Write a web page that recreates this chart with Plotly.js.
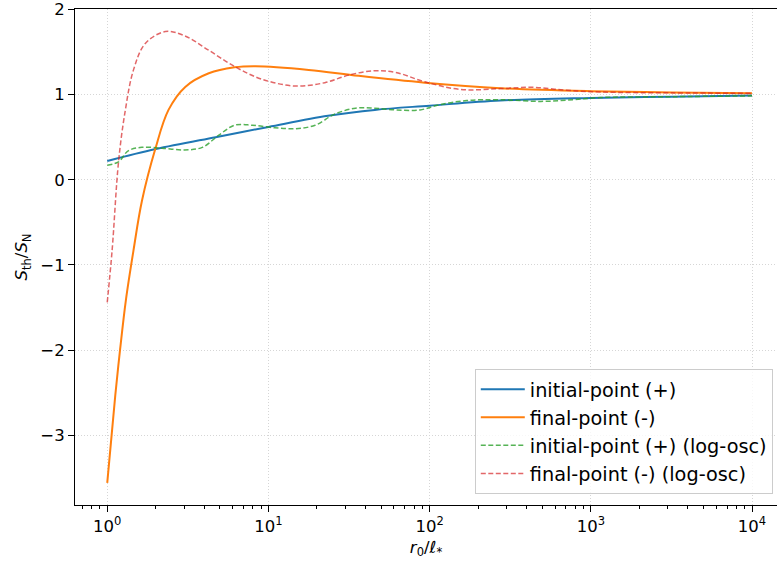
<!DOCTYPE html>
<html>
<head>
<meta charset="utf-8">
<script src="https://cdn.plot.ly/plotly-3.0.1.min.js"></script>
<style>html,body{margin:0;padding:0;background:#fff;}#chart{width:777px;height:568px;}</style>
</head>
<body>
<div id="chart"></div>
<script>
// r0/l* sample points and S_th/S_N values
const xInitial = [1, 2, 4.7, 10, 23.4, 45.7, 100, 275, 1000, 3162, 10000];
const yInitial = [0.22, 0.36, 0.50, 0.62, 0.75, 0.82, 0.87, 0.93, 0.96, 0.975, 0.99];

const xFinal = [1, 1.122, 1.202, 1.306, 1.455, 1.641, 1.986, 2.399, 3.048, 4.266, 6.166, 8.318, 17.78, 36.31, 93.3, 275, 1000, 3162, 10000];
const yFinal = [-3.56, -2.53, -1.99, -1.41, -0.83, -0.25, 0.36, 0.82, 1.09, 1.25, 1.32, 1.333, 1.29, 1.22, 1.14, 1.075, 1.04, 1.025, 1.015];

const xInitialOsc = [1, 1.175, 1.349, 1.641, 2.188, 3.02, 3.89, 4.898, 6.166, 7.943, 10.96, 14.79, 19.5, 25.7, 34.67, 45.71, 61.66, 87.1, 114.8, 169.8, 275.4, 489.8, 776.2, 1148, 3162, 10000];
const yInitialOsc = [0.17, 0.21, 0.34, 0.38, 0.37, 0.35, 0.38, 0.52, 0.64, 0.64, 0.61, 0.60, 0.64, 0.77, 0.84, 0.84, 0.82, 0.82, 0.88, 0.93, 0.94, 0.92, 0.94, 0.965, 0.975, 0.985];

const xFinalOsc = [1, 1.072, 1.175, 1.288, 1.455, 1.722, 2.291, 3.02, 4.266, 6.166, 9.12, 14.79, 22.39, 31.62, 45.71, 61.66, 93.3, 154.9, 275.4, 436.5, 707.9, 1148, 3162, 10000];
const yFinalOsc = [-1.44, -0.83, 0.21, 0.79, 1.29, 1.60, 1.74, 1.69, 1.52, 1.33, 1.18, 1.10, 1.14, 1.23, 1.28, 1.26, 1.15, 1.06, 1.07, 1.085, 1.05, 1.03, 1.02, 1.015];

const seriesNames = ['initial-point (+)', 'final-point (-)', 'initial-point (+) (log-osc)', 'final-point (-) (log-osc)'];
const xTickVals = [1, 10, 100, 1000, 10000];
const xTickText = ['10<sup>0</sup>', '10<sup>1</sup>', '10<sup>2</sup>', '10<sup>3</sup>', '10<sup>4</sup>'];
const yTickVals = [-3, -2, -1, 0, 1, 2];

const font = 'DejaVu Sans, sans-serif';

const traces = [
  {x: xInitial, y: yInitial, name: seriesNames[0], legendgroup: 'a', mode: 'lines',
   line: {color: '#1f77b4', width: 2, shape: 'spline', smoothing: 1}},
  {x: xFinal, y: yFinal, name: seriesNames[1], legendgroup: 'b', mode: 'lines',
   line: {color: '#ff7f0e', width: 2, shape: 'spline', smoothing: 1}},
  {x: xInitialOsc, y: yInitialOsc, name: seriesNames[2], legendgroup: 'c', mode: 'lines',
   line: {color: 'rgba(44,160,44,0.8)', width: 1.5, dash: '5px,2.5px', shape: 'spline', smoothing: 1}},
  {x: xFinalOsc, y: yFinalOsc, name: seriesNames[3], legendgroup: 'd', mode: 'lines',
   line: {color: 'rgba(214,39,40,0.7)', width: 1.5, dash: '5px,2.5px', shape: 'spline', smoothing: 1}}
];

const layout = {
  width: 777, height: 568,
  margin: {l: 75, r: 0, t: 9, b: 63},
  paper_bgcolor: '#fff', plot_bgcolor: '#fff',
  font: {family: font, size: 16.5, color: '#000'},
  showlegend: true,
  legend: {
    x: 0.994, y: 0.022, xanchor: 'right', yanchor: 'bottom',
    bgcolor: 'rgba(255,255,255,0.8)', bordercolor: '#cccccc', borderwidth: 1,
    font: {family: font, size: 19.3, color: '#000'},
    tracegroupgap: 0, itemwidth: 44
  },
  xaxis: {
    type: 'log', range: [-0.2, 4.155],
    tickvals: xTickVals, ticktext: xTickText,
    ticks: 'outside', ticklen: 6, tickwidth: 1, tickcolor: '#000',
    ticklabeloverflow: 'allow',
    showline: true, linecolor: '#000', linewidth: 1, mirror: true,
    showgrid: true, gridcolor: '#d6d6d6', griddash: '1px,2px', gridwidth: 1,
    zeroline: false,
    minor: {ticks: 'outside', ticklen: 3, tickcolor: '#000', dtick: 'D1', showgrid: false},
    title: {text: '<i>r</i><sub>0</sub>/<i>ℓ</i><sub>*</sub>', font: {family: font, size: 16.5}, standoff: 6},
    tickfont: {family: font, size: 16.5}
  },
  yaxis: {
    range: [-3.82, 2.005],
    tickvals: yTickVals,
    ticks: 'outside', ticklen: 6, tickwidth: 1, tickcolor: '#000',
    ticklabeloverflow: 'allow',
    showline: true, linecolor: '#000', linewidth: 1, mirror: false,
    showgrid: true, gridcolor: '#d6d6d6', griddash: '1px,2px', gridwidth: 1,
    zeroline: false,
    title: {text: '<i>S</i><sub>th</sub>/<i>S</i><sub>N</sub>', font: {family: font, size: 16.5}, standoff: 8},
    tickfont: {family: font, size: 16.5}
  }
};

Plotly.newPlot('chart', traces, layout, {displayModeBar: false, staticPlot: true});
</script>
</body>
</html>
